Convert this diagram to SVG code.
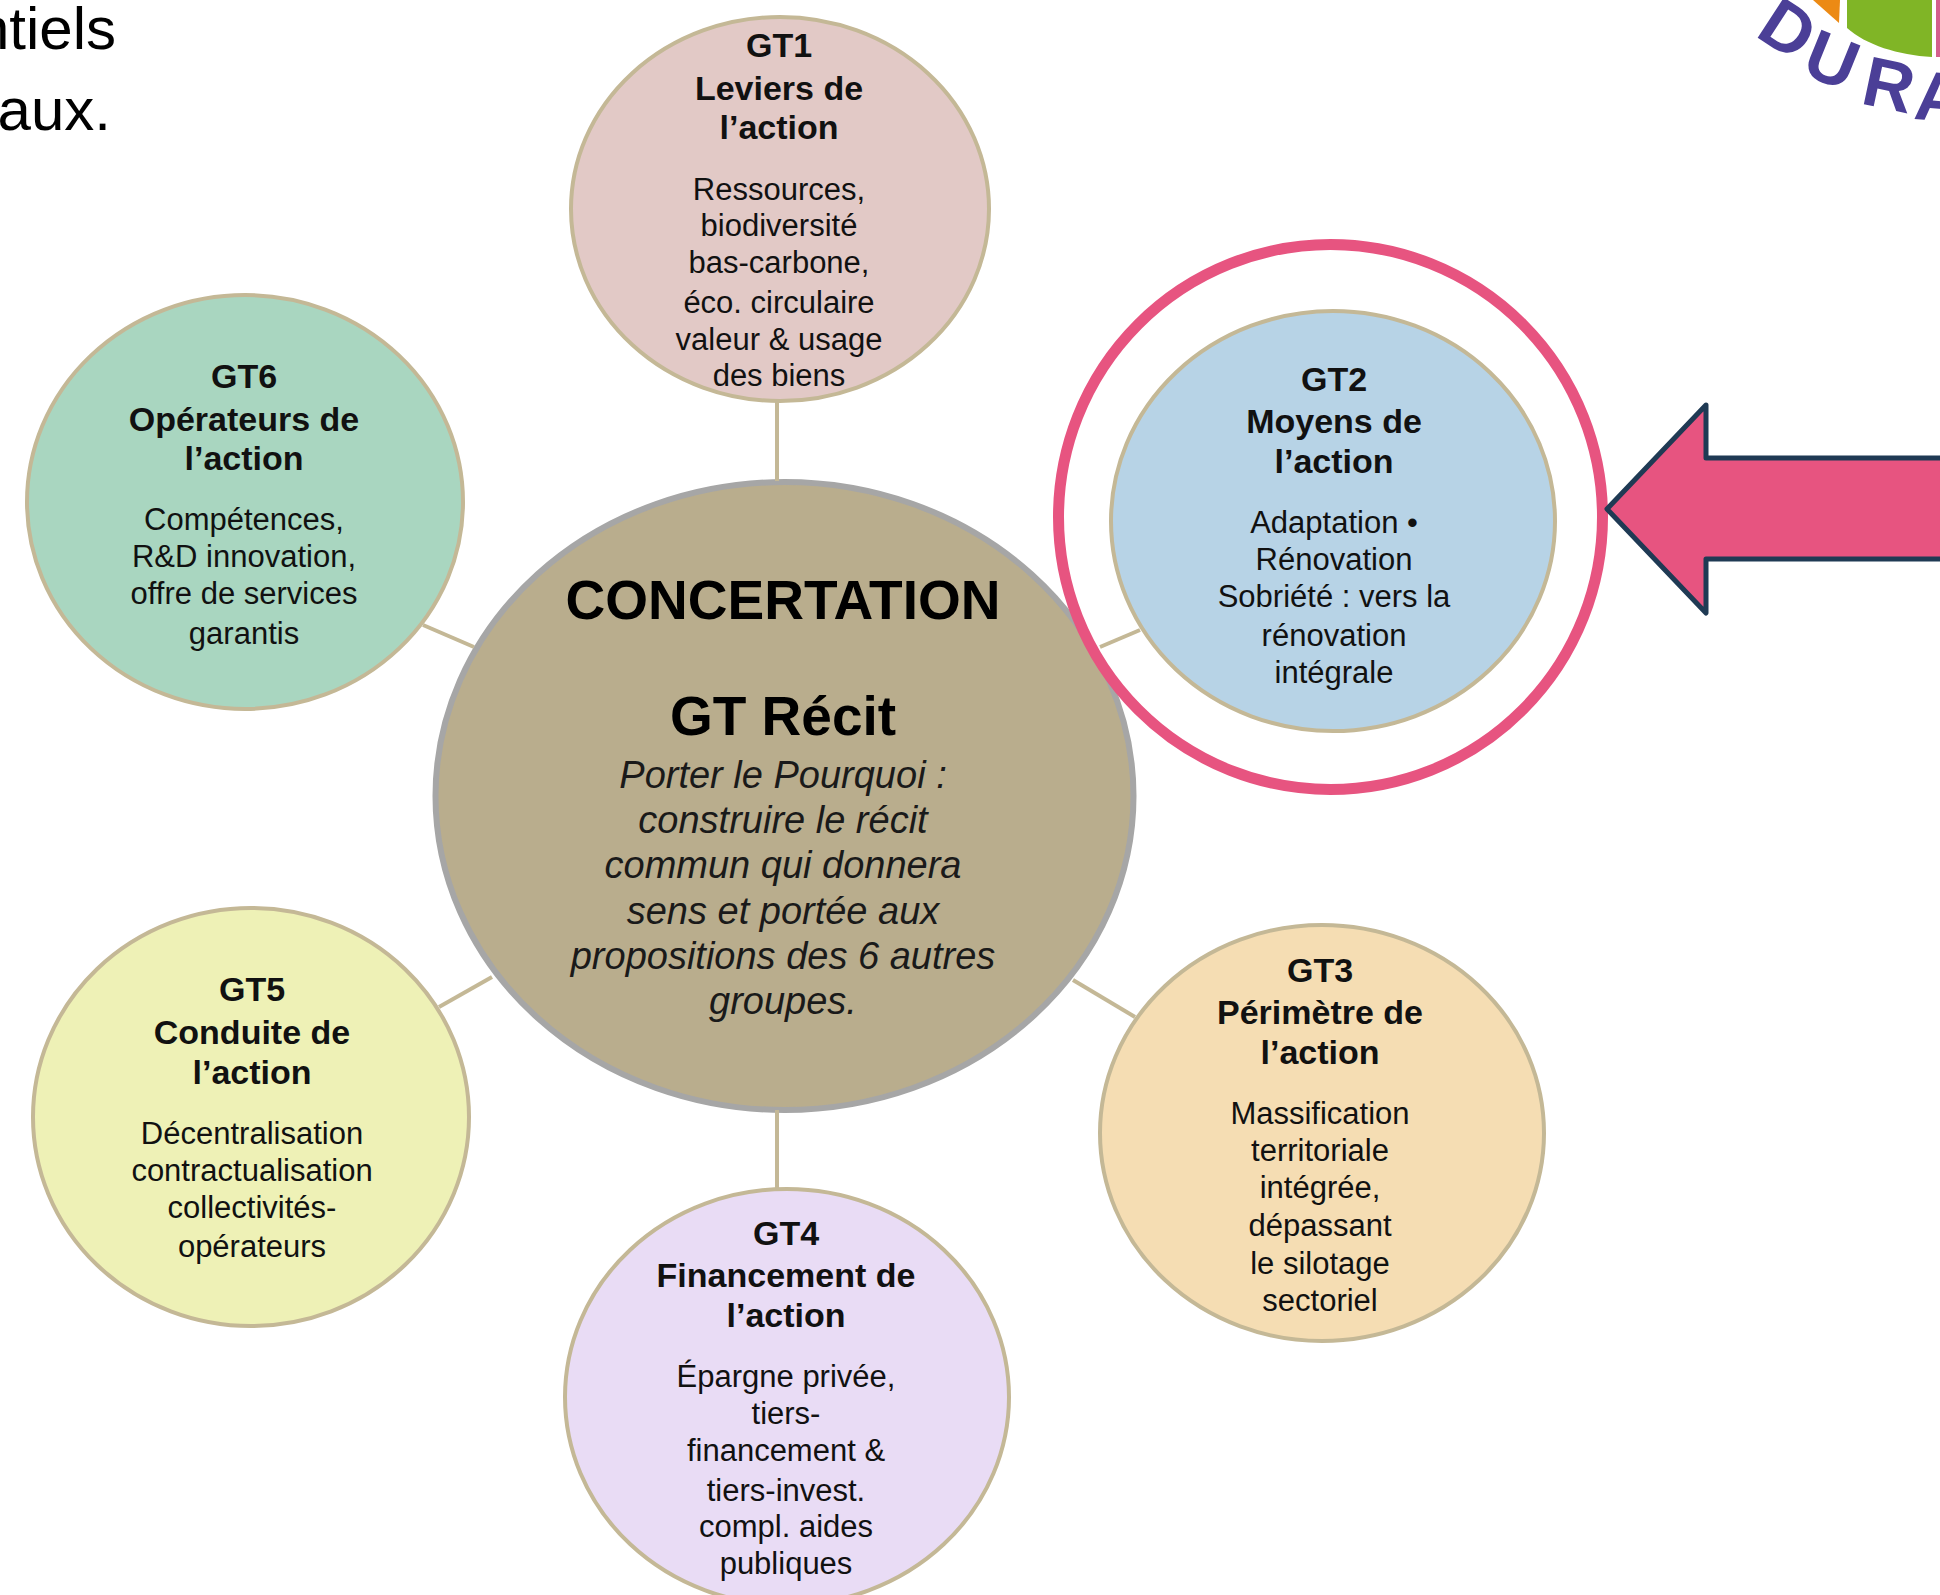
<svg xmlns="http://www.w3.org/2000/svg" width="1940" height="1595" viewBox="0 0 1940 1595">
<style>
text{font-family:"Liberation Sans",Arial,sans-serif;fill:#000;text-anchor:middle}
.t{font-size:34px;font-weight:bold;fill:#111}
.b{font-size:31px;fill:#111}
.h{font-size:55px;font-weight:bold}
.i{font-size:38px;font-style:italic;fill:#1a1a1a}
.p{font-size:60px;text-anchor:end}
.l{font-size:70px;font-weight:bold;fill:#4b3f97}
.n{stroke:#c4b896;stroke-width:4}
.c{stroke:#c4b896;stroke-width:4;fill:none}
</style>
<g id="intro-text">
<text class="p" x="116" y="49">ntiels</text>
<text class="p" x="111" y="130">aux.</text>
</g>
<g id="logo">
<path d="M1813 0H1840L1839 23Z" fill="#ec8a14"/>
<path d="M1847 0H1932V57C1898 55 1866 45 1847 28Z" fill="#80b526"/>
<rect x="1936" y="0" width="4" height="57" fill="#d4608e"/>
<text class="l" transform="translate(1788 29) rotate(33)" y="24">D</text>
<text class="l" transform="translate(1832 60) rotate(22)" y="24">U</text>
<text class="l" transform="translate(1889 85) rotate(12)" y="24">R</text>
<text class="l" transform="translate(1940 97) rotate(5)" y="24">A</text>
</g>
<g id="center">
<ellipse cx="784.5" cy="796" rx="349" ry="314" fill="#b9ad8d" stroke="#a6a6a6" stroke-width="6"/>
<text class="h" x="783" y="619">CONCERTATION</text>
<text class="h" x="783" y="735">GT Récit</text>
<text class="i" x="783" y="788">Porter le Pourquoi :</text>
<text class="i" x="783" y="833">construire le récit</text>
<text class="i" x="783" y="878">commun qui donnera</text>
<text class="i" x="783" y="924">sens et portée aux</text>
<text class="i" x="783" y="969">propositions des 6 autres</text>
<text class="i" x="783" y="1014">groupes.</text>
</g>
<g id="highlight-ring">
<ellipse cx="1330.5" cy="517" rx="272" ry="272.5" fill="#fff" stroke="#e75480" stroke-width="11"/>
</g>
<g id="connectors">
<path class="c" d="M777 402V481"/>
<path class="c" d="M777 1110V1188"/>
<path class="c" d="M423 625L474 647"/>
<path class="c" d="M1100 647L1140 630"/>
<path class="c" d="M439 1007L492 977"/>
<path class="c" d="M1073 980L1135 1017"/>
</g>
<g id="gt1">
<ellipse class="n" cx="780" cy="209" rx="209" ry="192" fill="#e2c9c6"/>
<text class="t" x="779" y="57">GT1</text>
<text class="t" x="779" y="100">Leviers de</text>
<text class="t" x="779" y="139">l’action</text>
<text class="b" x="779" y="200">Ressources,</text>
<text class="b" x="779" y="236">biodiversité</text>
<text class="b" x="779" y="273">bas-carbone,</text>
<text class="b" x="779" y="313">éco. circulaire</text>
<text class="b" x="779" y="350">valeur &amp; usage</text>
<text class="b" x="779" y="386">des biens</text>
</g>
<g id="gt2">
<ellipse class="n" cx="1333" cy="521" rx="222" ry="210" fill="#b7d3e6"/>
<text class="t" x="1334" y="391">GT2</text>
<text class="t" x="1334" y="433">Moyens de</text>
<text class="t" x="1334" y="473">l’action</text>
<text class="b" x="1334" y="533">Adaptation •</text>
<text class="b" x="1334" y="570">Rénovation</text>
<text class="b" x="1334" y="607">Sobriété : vers la</text>
<text class="b" x="1334" y="646">rénovation</text>
<text class="b" x="1334" y="683">intégrale</text>
</g>
<g id="gt3">
<ellipse class="n" cx="1322" cy="1133" rx="222" ry="208" fill="#f5ddb3"/>
<text class="t" x="1320" y="982">GT3</text>
<text class="t" x="1320" y="1024">Périmètre de</text>
<text class="t" x="1320" y="1064">l’action</text>
<text class="b" x="1320" y="1124">Massification</text>
<text class="b" x="1320" y="1161">territoriale</text>
<text class="b" x="1320" y="1198">intégrée,</text>
<text class="b" x="1320" y="1236">dépassant</text>
<text class="b" x="1320" y="1274">le silotage</text>
<text class="b" x="1320" y="1311">sectoriel</text>
</g>
<g id="gt4">
<ellipse class="n" cx="787" cy="1397" rx="222" ry="208" fill="#e9dcf5"/>
<text class="t" x="786" y="1245">GT4</text>
<text class="t" x="786" y="1287">Financement de</text>
<text class="t" x="786" y="1327">l’action</text>
<text class="b" x="786" y="1387">Épargne privée,</text>
<text class="b" x="786" y="1424">tiers-</text>
<text class="b" x="786" y="1461">financement &amp;</text>
<text class="b" x="786" y="1501">tiers-invest.</text>
<text class="b" x="786" y="1537">compl. aides</text>
<text class="b" x="786" y="1574">publiques</text>
</g>
<g id="gt5">
<ellipse class="n" cx="251" cy="1117" rx="218" ry="209" fill="#eef1b6"/>
<text class="t" x="252" y="1001">GT5</text>
<text class="t" x="252" y="1044">Conduite de</text>
<text class="t" x="252" y="1084">l’action</text>
<text class="b" x="252" y="1144">Décentralisation</text>
<text class="b" x="252" y="1181">contractualisation</text>
<text class="b" x="252" y="1218">collectivités-</text>
<text class="b" x="252" y="1257">opérateurs</text>
</g>
<g id="gt6">
<ellipse class="n" cx="245" cy="502" rx="218" ry="207" fill="#a9d6c0"/>
<text class="t" x="244" y="388">GT6</text>
<text class="t" x="244" y="431">Opérateurs de</text>
<text class="t" x="244" y="470">l’action</text>
<text class="b" x="244" y="530">Compétences,</text>
<text class="b" x="244" y="567">R&amp;D innovation,</text>
<text class="b" x="244" y="604">offre de services</text>
<text class="b" x="244" y="644">garantis</text>
</g>
<g id="arrow">
<path d="M1945 458H1706V405L1607 509L1706 613V559H1945Z" fill="#e75480" stroke="#1f3a54" stroke-width="5" stroke-linejoin="round"/>
</g>
</svg>
